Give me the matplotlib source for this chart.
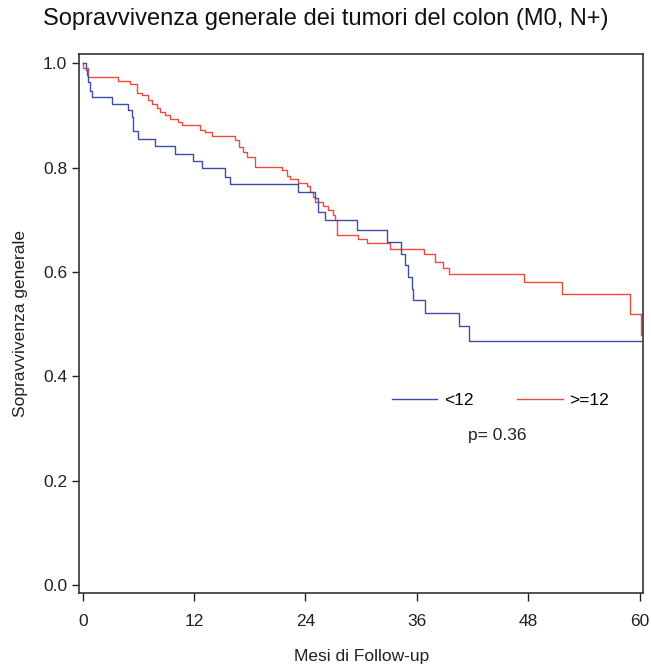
import numpy as np
import matplotlib.pyplot as plt

plt.rcParams['font.family'] = ['Liberation Sans', 'DejaVu Sans']

# Kaplan-Meier steps (months, survival after the step)
t_lt12 = [0.36, 0.5, 0.6, 0.79, 0.97, 3.13, 4.92, 5.28, 5.45, 6.0, 7.8, 9.95,
          11.9, 12.8, 15.3, 15.9, 23.2, 25.0, 25.4, 26.1, 29.5, 32.8, 34.3,
          34.7, 35.1, 35.5, 35.6, 36.9, 40.5, 41.6]
s_lt12 = [0.988, 0.977, 0.964, 0.948, 0.936, 0.923, 0.910, 0.898, 0.871, 0.855,
          0.842, 0.826, 0.813, 0.800, 0.783, 0.769, 0.754, 0.741, 0.716, 0.699,
          0.680, 0.658, 0.635, 0.613, 0.591, 0.568, 0.546, 0.522, 0.496, 0.468]
end_lt12 = 60.2

t_ge12 = [0.06, 0.6, 3.84, 5.1, 5.8, 6.36, 7.07, 7.44, 7.98, 8.33, 8.87, 9.41,
          10.3, 10.67, 12.64, 13.18, 13.9, 16.4, 16.8, 17.3, 17.7, 18.6, 21.45,
          22.0, 22.35, 23.24, 24.15, 24.5, 24.86, 25.04, 25.94, 26.47, 27.0,
          27.2, 27.38, 27.45, 29.7, 30.6, 33.1, 36.8, 38.0, 38.8, 39.5, 47.5,
          51.6, 59.0, 60.1]
s_ge12 = [0.991, 0.974, 0.967, 0.961, 0.943, 0.939, 0.929, 0.923, 0.914, 0.907,
          0.901, 0.894, 0.888, 0.882, 0.873, 0.869, 0.861, 0.853, 0.840, 0.831,
          0.820, 0.802, 0.795, 0.785, 0.779, 0.770, 0.764, 0.754, 0.744, 0.734,
          0.726, 0.718, 0.709, 0.699, 0.680, 0.671, 0.664, 0.655, 0.645, 0.635,
          0.620, 0.607, 0.597, 0.580, 0.557, 0.520, 0.480]
end_ge12 = 60.1

x_ticks = [0, 12, 24, 36, 48, 60]
y_ticks = [0.0, 0.2, 0.4, 0.6, 0.8, 1.0]

blue = '#3d4ea8'
red = '#f04a3a'

fig = plt.figure(figsize=(6.51, 6.64), dpi=100)
ax = fig.add_axes([79 / 651, 1 - 593.3 / 664, 564.3 / 651, 539.3 / 664])

ax.step([0] + t_ge12 + [end_ge12], [1.0] + s_ge12 + [s_ge12[-1]], where='post',
        color=red, lw=1.0, label='>=12')
ax.step([0] + t_lt12 + [end_lt12], [1.0] + s_lt12 + [s_lt12[-1]], where='post',
        color=blue, lw=1.0, label='<12')

ax.set_xlim(-0.4, 60.4)
ax.set_ylim(-0.016, 1.018)
ax.set_xticks(x_ticks)
ax.set_xticklabels([str(v) for v in x_ticks])
ax.set_yticks(y_ticks)
ax.set_yticklabels(['%.1f' % v for v in y_ticks])
ax.tick_params(labelsize=12.5, width=1, colors='#222222')
ax.tick_params(axis='x', length=6, pad=9)
ax.tick_params(axis='y', length=5, pad=3.5)
for sp in ax.spines.values():
    sp.set_color('#333333')
    sp.set_linewidth(1.2)

ax.set_xlabel('Mesi di Follow-up', fontsize=12.5, labelpad=14, color='#222222')
ax.set_ylabel('Sopravvivenza generale', fontsize=12.5, labelpad=11, color='#222222')

h, l = ax.get_legend_handles_labels()
ax.legend(h[::-1], l[::-1], ncol=2, loc='center left', bbox_to_anchor=(0.554, 0.358),
          frameon=False, fontsize=12.5, handlelength=2.6, handletextpad=0.4,
          columnspacing=2.55, borderpad=0, borderaxespad=0)
ax.text(0.689, 0.2935, 'p= 0.36', transform=ax.transAxes, fontsize=12.5,
        va='center', ha='left', color='#222222')

fig.text(0.5, 1 - 19 / 664, 'Sopravvivenza generale dei tumori del colon (M0, N+)',
         ha='center', va='center', fontsize=17, color='#111111')

fig.savefig('out.png', dpi=100)
